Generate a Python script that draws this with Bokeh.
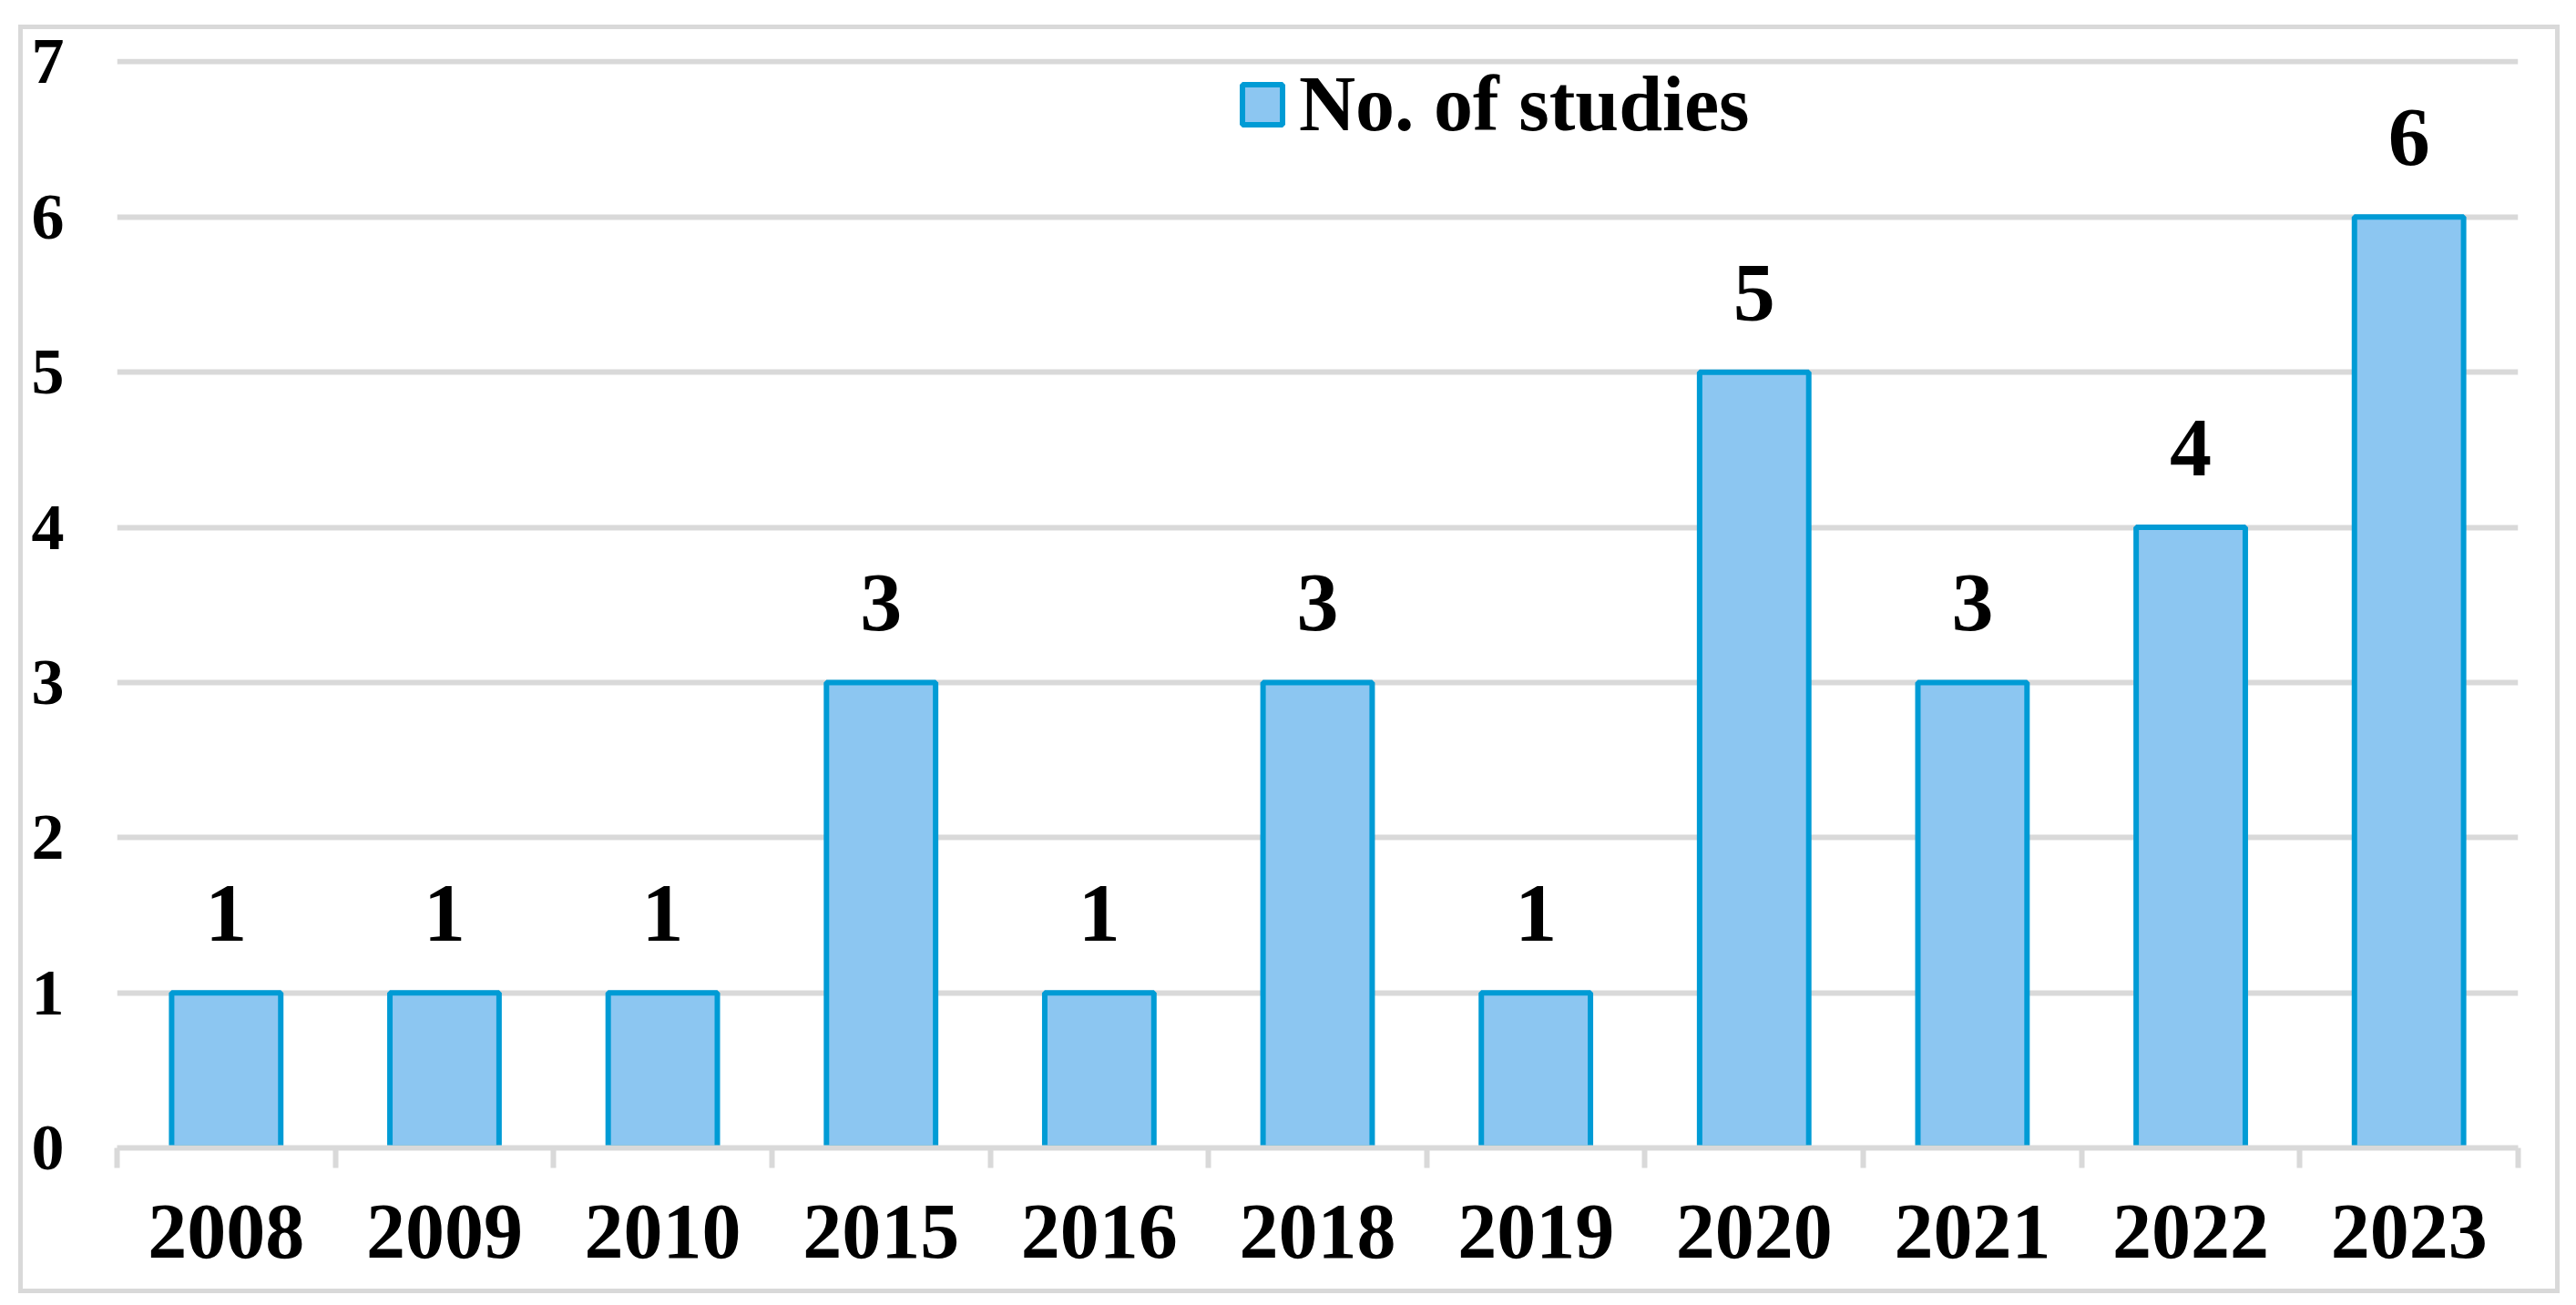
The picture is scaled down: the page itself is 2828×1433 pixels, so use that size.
from bokeh.plotting import figure
from bokeh.models import (ColumnDataSource, Range1d, FixedTicker, LabelSet,
                          Legend, LegendItem)
from bokeh.embed import file_html
from bokeh.resources import INLINE

# ---- data ----
years = ["2008", "2009", "2010", "2015", "2016", "2018", "2019",
         "2020", "2021", "2022", "2023"]
studies = [1, 1, 1, 3, 1, 3, 1, 5, 3, 4, 6]
y_ticks = [0, 1, 2, 3, 4, 5, 6, 7]
series_name = "No. of studies"

# ---- derived ----
n = len(years)
centers = [i + 0.5 for i in range(n)]
bounds = list(range(n + 1))
src = ColumnDataSource(dict(x=centers, top=studies, year=years,
                            label=[str(v) for v in studies]))

FONT = "Liberation Serif"
GRID = "#d9d9d9"
FILL = "#8cc6f1"
EDGE = "#009bd5"

p = figure(width=2790, height=1393, output_backend="svg", toolbar_location=None,
           x_range=Range1d(0, n), y_range=Range1d(0, y_ticks[-1] + 0.02),
           min_border_left=108, min_border_right=46,
           min_border_top=37, min_border_bottom=160)
p.margin = (27, 0, 0, 20)
# chart-area border (Excel style); canvas margins are transparent so it shows
p.styles = {"outline": "5px solid #d9d9d9", "outline-offset": "-5px",
            "background-color": "white"}
p.outline_line_color = None
p.background_fill_color = "white"
p.border_fill_color = None

r = p.vbar(x="x", top="top", bottom=0, width=0.5, source=src,
           fill_color=FILL, line_color=EDGE, line_width=6)

# grid
p.xgrid.visible = False
p.ygrid.grid_line_color = GRID
p.ygrid.grid_line_width = 6

# x axis
xa = p.xaxis[0]
xa.ticker = FixedTicker(ticks=centers, minor_ticks=bounds)
xa.major_label_overrides = {c: y for c, y in zip(centers, years)}
xa.axis_line_color = GRID
xa.axis_line_width = 6
xa.major_tick_line_color = None
xa.major_tick_out = 0
xa.major_tick_in = 0
xa.minor_tick_line_color = GRID
xa.minor_tick_line_width = 6
xa.minor_tick_out = 22
xa.minor_tick_in = 0
xa.major_label_text_font = FONT
xa.major_label_text_font_style = "bold"
xa.major_label_text_font_size = "86px"
xa.major_label_text_color = "black"
xa.major_label_standoff = 41

# y axis
ya = p.yaxis[0]
ya.ticker = FixedTicker(ticks=y_ticks)
ya.axis_line_color = None
ya.major_tick_line_color = None
ya.minor_tick_line_color = None
ya.major_tick_out = 0
ya.major_tick_in = 0
ya.major_label_text_font = FONT
ya.major_label_text_font_style = "bold"
ya.major_label_text_font_size = "72px"
ya.major_label_text_color = "black"
ya.major_label_standoff = 58

# value labels
labels = LabelSet(x="x", y="top", text="label", source=src, y_offset=57,
                  text_align="center", text_baseline="alphabetic",
                  text_font=FONT, text_font_style="bold",
                  text_font_size="92px", text_color="black")
p.add_layout(labels)

# legend
legend = Legend(items=[LegendItem(label=series_name, renderers=[r])],
                location=(1230, 1096), orientation="horizontal",
                glyph_width=55, glyph_height=55, label_height=55,
                label_standoff=13, padding=0, margin=0, spacing=0,
                border_line_color=None, background_fill_alpha=0,
                label_text_font=FONT, label_text_font_style="bold",
                label_text_font_size="86px", label_text_color="black")
p.add_layout(legend)

open("out.html", "w").write(file_html(p, INLINE))
